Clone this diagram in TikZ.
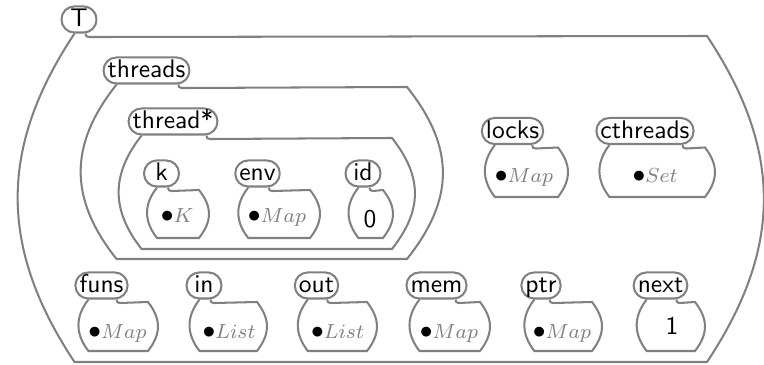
\documentclass[tikz,border=0pt]{standalone}
\usetikzlibrary{calc}

\tikzset{
  cellline/.style={draw=gray,line width=0.8pt},
  tab/.style={cellline,rounded corners=5pt,minimum height=10.2pt,minimum width=13.7pt,
    inner xsep=1.6pt,inner ysep=0pt,font=\sffamily,text height=7pt,text depth=1.5pt},
  val/.style={anchor=base,inner sep=0pt},
}
\newcommand\kbox[1]{$\bullet$\textcolor{gray}{\footnotesize$#1$}}

% #1 name, #2 label, #3/#4 tab centre, #5 right x, #6 bottom y, #7 bulge
\newcommand\kcell[7]{%
  \node[tab] (#1) at (#3,#4) {#2};
  \coordinate (#1-jl) at ($(#1.south west)+(14,0)$);
  \coordinate (#1-jr) at ($(#1.south east)+(-12,0)$);
  \coordinate (#1-b) at (0,#6);
  \draw[cellline] (#1-jr) .. controls +(0,2.5) and +(-2.5,0) .. ++(3.5,3.5)
    -- (#5,{#4+16.5})
    .. controls ({#5+1.33*#7},{#4+16.5+0.35*(#6-#4-16.5)}) and ({#5+1.33*#7},{#6-0.35*(#6-#4-16.5)}) .. (#5,#6)
    -- (#1-jl |- #1-b)
    .. controls +({-1.33*#7},{-0.35*(#6-#4-16.5)}) and +({-1.33*#7},{0.35*(#6-#4-16.5)}) .. (#1-jl);
}

\begin{document}
\begin{tikzpicture}[x=0.392pt,y=-0.392pt]
\useasboundingbox (0,0) rectangle (764,365);
\kcell{T}{T}{79}{19.5}{707}{362}{57}
\kcell{threads}{threads}{146.5}{70.5}{407}{259}{36}
\kcell{thread}{thread*}{173}{121.5}{392}{249}{23}
\kcell{k}{k}{161.5}{173.5}{199}{238}{10}
\kcell{env}{env}{257.5}{173.5}{310}{238}{10}
\kcell{id}{id}{363}{173.5}{383}{238}{10}
\kcell{locks}{locks}{512.5}{131}{558}{197}{10}
\kcell{cthreads}{cthreads}{645}{131}{705}{197}{10}
\kcell{funs}{funs}{101.5}{285.5}{148}{351}{10}
\kcell{in}{in}{204}{285.5}{257}{351}{10}
\kcell{out}{out}{316.5}{285.5}{367}{351}{10}
\kcell{mem}{mem}{436.5}{285.5}{480}{351}{10}
\kcell{ptr}{ptr}{541}{285.5}{592}{351}{10}
\kcell{next}{next}{660.5}{285.5}{695}{351}{10}
\node[val] (k-v) at (177,223) {\kbox{K}};
\node[val] (env-v) at (277,223) {\kbox{Map}};
\node[val,font=\sffamily] (id-v) at (370,228) {0};
\node[val] (locks-v) at (524,183) {\kbox{Map}};
\node[val] (cthreads-v) at (655,183) {\kbox{Set}};
\node[val] (funs-v) at (117.5,339) {\kbox{Map}};
\node[val] (in-v) at (229,339) {\kbox{List}};
\node[val] (out-v) at (337.5,339) {\kbox{List}};
\node[val] (mem-v) at (449,339) {\kbox{Map}};
\node[val] (ptr-v) at (562,339) {\kbox{Map}};
\node[val,font=\sffamily] (next-v) at (672,335) {1};
\end{tikzpicture}
\end{document}
